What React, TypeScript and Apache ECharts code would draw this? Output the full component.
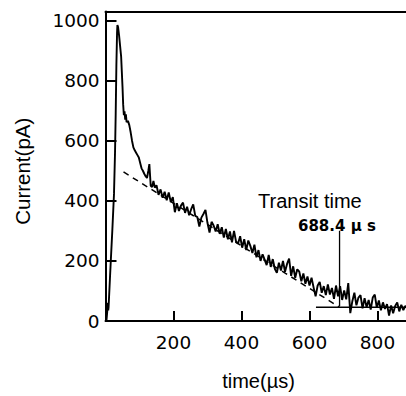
import React, { useEffect, useRef } from "react";
import * as echarts from "echarts";

// time (µs) and photocurrent (pA)
const timeUs = [
  0, 3, 5, 6, 7, 8, 9, 10, 13, 16, 20, 25, 28, 30, 32, 34, 35, 37, 40, 43,
  46, 48, 50, 52, 54, 56, 58, 60, 62, 66, 70, 74, 78, 82, 86, 90, 94, 98, 102, 106,
  110, 114, 118, 122, 126, 129, 131, 133, 137, 141, 145,
  150, 156, 162, 168, 174, 180, 186, 192, 198, 204,
  210, 216, 222, 228, 234, 240, 246, 252, 258, 264,
  270, 276, 282, 288, 294, 300, 306, 312, 318, 324,
  330, 336, 342, 348, 354, 360, 366, 372, 378, 384,
  390, 396, 402, 408, 414, 420, 426, 432, 438, 444,
  450, 456, 462, 468, 474, 480, 486, 492, 498, 504,
  510, 516, 522, 528, 534, 540, 546, 552, 558, 564,
  570, 576, 582, 588, 594, 600, 606, 612, 618, 624,
  630, 636, 642, 648, 654, 660, 666, 672, 678, 684,
  690, 696, 702, 708, 714, 720, 726, 732, 738, 744,
  750, 756, 762, 768, 774, 780, 786, 792, 798, 804,
  810, 816, 822, 828, 834, 840, 846, 852, 858, 864,
  870, 876, 882, 888,
];
const currentPA = [
  2, 4, 30, 55, 60, 35, 45, 68, 140, 210, 300, 423, 560, 690, 850, 960, 985, 978, 950, 915,
  880, 830, 780, 720, 685, 698, 670, 688, 662, 666, 652, 628, 600, 578, 568, 560, 552, 544, 526, 508,
  500, 490, 482, 476, 500, 522, 486, 450, 446, 466, 444,
  452, 420, 438, 410, 430, 402, 428, 396, 412, 362,
  392, 366, 384, 394, 360, 380, 352, 372, 388, 350,
  346, 314, 344, 356, 370, 326, 294, 330, 318, 298,
  322, 290, 312, 278, 306, 272, 298, 262, 300, 264,
  258, 282, 244, 272, 236, 268, 250, 226, 254, 212,
  236, 200, 222, 204, 186, 220, 180, 206, 174, 160,
  194, 168, 200, 164, 190, 208, 150, 182, 144, 172,
  164, 132, 158, 124, 148, 118, 144, 112, 82, 118,
  130, 94, 116, 86, 122, 88, 110, 74, 118, 82,
  116, 70, 102, 72, 126, 26, 66, 94, 52, 78,
  86, 42, 76, 46, 70, 38, 78, 88, 44, 68,
  36, 62, 40, 56, 18, 52, 26, 50, 62, 32,
  54, 36, 50, 42,
];

// linear fit of the decay (dashed) and its intersection with the tail level
const fitTime = [53, 688.4];
const fitCurrent = [496, 46];
const tailTime = [619, 900];
const tailCurrent = [46, 46];
const transitTime = 688.4;
const transitMarker = [300, 50];

export default function App() {
  const ref = useRef<HTMLDivElement>(null);

  useEffect(() => {
    if (!ref.current) return;
    const chart = echarts.init(ref.current, null, { renderer: "svg" });
    const labelFont = "DejaVu Sans";
    const titleFont = "Liberation Sans";
    const tickColor = "#000";
    chart.setOption({
      animation: false,
      backgroundColor: "#ffffff",
      grid: { left: 105.5, top: 11.5, width: 306, height: 319.6 },
      xAxis: [
        {
          type: "value",
          min: 0,
          max: 900,
          interval: 200,
          name: "time(µs)",
          nameLocation: "middle",
          nameGap: 50,
          nameTextStyle: { fontFamily: titleFont, fontSize: 20, color: "#000" },
          axisLine: { show: true, onZero: false, lineStyle: { color: "#000", width: 2 } },
          axisTick: { show: true, inside: true, length: 10, lineStyle: { color: tickColor, width: 2 } },
          splitLine: { show: false },
          axisLabel: {
            fontFamily: labelFont,
            fontSize: 18.5,
            color: "#000",
            margin: 12,
            showMinLabel: false,
            showMaxLabel: false,
            formatter: (v: number) => String(v),
          },
        },
        {
          type: "value",
          position: "top",
          min: 0,
          max: 900,
          axisLine: { show: true, onZero: false, lineStyle: { color: "#000", width: 2 } },
          axisTick: { show: false },
          axisLabel: { show: false },
          splitLine: { show: false },
        },
      ],
      yAxis: {
        type: "value",
        min: 0,
        max: 1030,
        interval: 200,
        name: "Current(pA)",
        nameLocation: "middle",
        nameRotate: 90,
        nameGap: 73,
        nameTextStyle: { fontFamily: titleFont, fontSize: 20.5, color: "#000", padding: [0, 10, 0, 0] },
        axisLine: { show: true, onZero: false, lineStyle: { color: "#000", width: 2 } },
        axisTick: { show: true, inside: true, length: 11, lineStyle: { color: tickColor, width: 2 } },
        splitLine: { show: false },
        axisLabel: {
          fontFamily: labelFont,
          fontSize: 18.5,
          color: "#000",
          margin: 6,
          showMaxLabel: false,
          formatter: (v: number) => String(v),
        },
      },
      series: [
        {
          type: "line",
          name: "fit",
          data: fitTime.map((t, i) => [t, fitCurrent[i]]),
          showSymbol: false,
          lineStyle: { color: "#000", width: 1.5, type: [6, 5] },
          z: 1,
        },
        {
          type: "line",
          name: "current",
          data: timeUs.map((t, i) => [t, currentPA[i]]),
          showSymbol: false,
          lineStyle: { color: "#000", width: 1.9 },
          z: 2,
        },
        {
          type: "line",
          name: "tail",
          data: tailTime.map((t, i) => [t, tailCurrent[i]]),
          showSymbol: false,
          lineStyle: { color: "#000", width: 1.5 },
          z: 3,
        },
        {
          type: "line",
          name: "transit",
          data: transitMarker.map((c) => [transitTime, c]),
          showSymbol: false,
          lineStyle: { color: "#000", width: 1.3 },
          z: 3,
        },
      ],
      graphic: [
        {
          type: "text",
          left: 258,
          top: 191,
          style: { text: "Transit time", fontFamily: titleFont, fontSize: 20, fill: "#000" },
        },
        {
          type: "text",
          left: 298,
          top: 218,
          style: {
            text: "688.4 µ s",
            fontFamily: labelFont,
            fontWeight: "bold",
            fontSize: 15,
            fill: "#000",
          },
        },
      ],
    });
    return () => chart.dispose();
  }, []);

  return (
    <div
      style={{
        position: "fixed",
        left: 0,
        top: 0,
        width: 406,
        height: 396,
        overflow: "hidden",
        background: "#fff",
      }}
    >
      <div ref={ref} style={{ width: 430, height: 396 }} />
    </div>
  );
}
